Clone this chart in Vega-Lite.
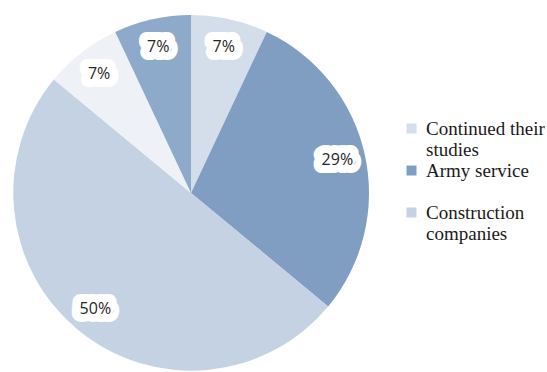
{
  "$schema": "https://vega.github.io/schema/vega-lite/v6.json",
  "width": 382,
  "height": 386,
  "padding": 0,
  "autosize": {"type": "pad"},
  "background": "white",
  "view": {"stroke": null},
  "config": {"legend": {"labelFont": "Liberation Serif"}},
  "data": {
    "values": [
      {"category": "Continued their studies", "pct": 0.07, "idx": 1},
      {"category": "Army service", "pct": 0.29, "idx": 2},
      {"category": "Construction companies", "pct": 0.50, "idx": 3},
      {"category": "Other 1", "pct": 0.07, "idx": 4},
      {"category": "Other 2", "pct": 0.07, "idx": 5}
    ]
  },
  "encoding": {
    "theta": {"field": "pct", "type": "quantitative", "stack": true},
    "order": {"field": "idx", "type": "quantitative"}
  },
  "layer": [
    {
      "mark": {"type": "arc", "outerRadius": 178},
      "encoding": {
        "color": {
          "field": "category",
          "type": "nominal",
          "scale": {
            "domain": ["Continued their studies", "Army service", "Construction companies", "Other 1", "Other 2"],
            "range": ["#d3deea", "#7f9ec2", "#c4d2e3", "#eef1f5", "#8eaaca"]
          },
          "legend": {
            "values": ["Continued their studies", "Army service", "Construction companies"],
            "title": null,
            "orient": "none",
            "legendX": 402,
            "legendY": 119,
            "padding": 0,
            "symbolType": "square",
            "symbolSize": 100,
            "symbolStrokeWidth": 0,
            "labelFont": "Liberation Serif",
            "labelFontSize": 19,
            "labelColor": "#1a1a1a",
            "labelOffset": 5,
            "labelBaseline": "middle",
            "labelLimit": 0,
            "gridAlign": "all",
            "rowPadding": 1,
            "labelExpr": "datum.label == 'Continued their studies' ? ['Continued their', 'studies'] : datum.label == 'Construction companies' ? ['Construction', 'companies'] : datum.label"
          }
        }
      }
    },
    {
      "mark": {"type": "text", "radius": 150, "font": "Open Sans", "fontSize": 16, "fontWeight": "bold", "fill": "white", "stroke": "white", "strokeWidth": 16, "strokeJoin": "round", "align": "center", "baseline": "middle"},
      "encoding": {
        "detail": {"field": "category"},
        "text": {"field": "pct", "type": "quantitative", "format": ".0%"}
      }
    },
    {
      "mark": {"type": "text", "radius": 150, "font": "Open Sans", "fontSize": 16, "fill": "#262626", "align": "center", "baseline": "middle"},
      "encoding": {
        "detail": {"field": "category"},
        "text": {"field": "pct", "type": "quantitative", "format": ".0%"}
      }
    }
  ]
}
